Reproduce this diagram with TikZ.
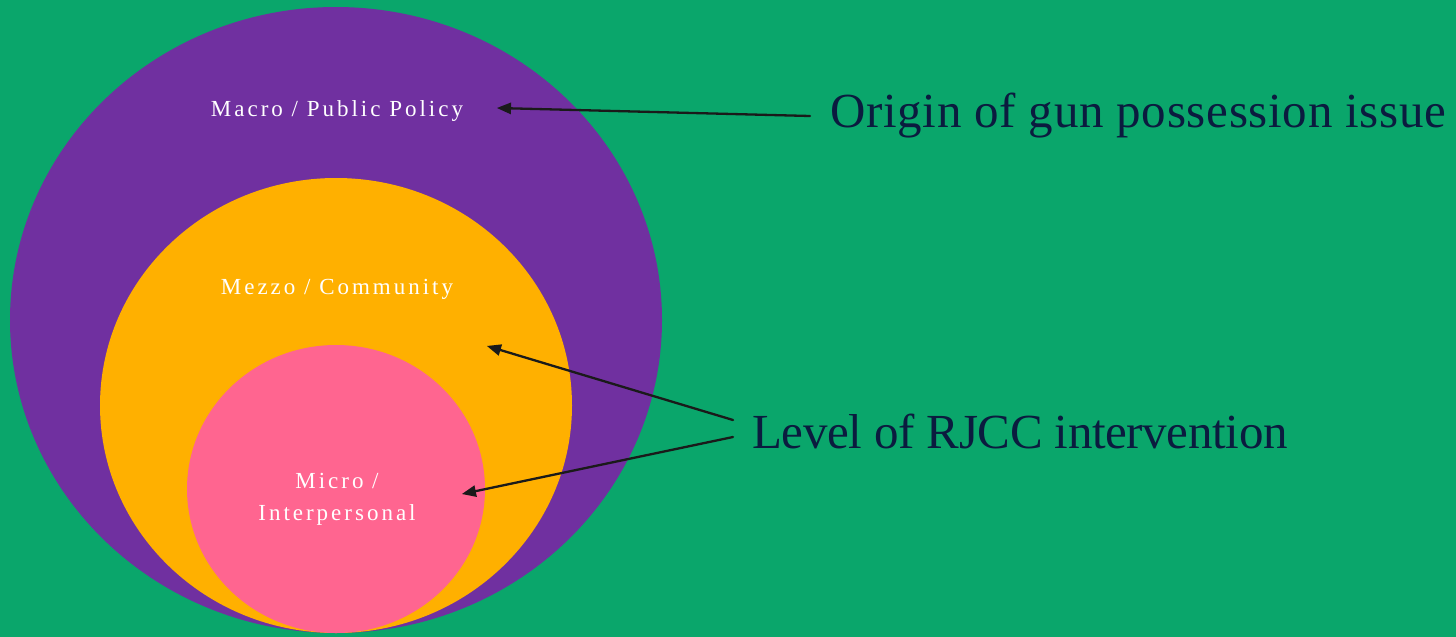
\documentclass[tikz,border=0pt]{standalone}
\usepackage{fontspec}
\setmainfont{Liberation Serif}
\usetikzlibrary{arrows}
\definecolor{bggreen}{HTML}{0AA66B}
\definecolor{macrocol}{HTML}{7030A0}
\definecolor{mezzocol}{HTML}{FFB000}
\definecolor{microcol}{HTML}{FF6590}
\definecolor{navytext}{HTML}{0B1B3F}
\definecolor{arrowcol}{HTML}{1A1A1A}
\tikzset{
  levellabel/.style={text=white,font=\fontsize{23}{32}\selectfont\addfontfeature{LetterSpace=13},inner sep=0pt,anchor=base,align=center},
  notelabel/.style={text=navytext,font=\fontsize{49}{58}\selectfont\addfontfeature{LetterSpace=#1},inner sep=0pt,anchor=base west},
  pointer/.style={->,draw=arrowcol,line width=2.3pt}
}
\begin{document}
\begin{tikzpicture}[line cap=round,line join=round,>=triangle 45,x=1pt,y={(0,-1pt)}]
		\fill [bggreen] (0,0) rectangle (1456,637);
		\useasboundingbox (0,0) rectangle (1456,637);
		% nested levels
		\fill [macrocol] (336,320) ellipse (326 and 313);
		\fill [mezzocol] (336,405.5) ellipse (236 and 227.5);
		\fill [microcol] (336,489) ellipse (149 and 144);
		\node[levellabel] (macro) at (337,116.5) {Macro / Public Policy};
		\node[levellabel] (mezzo) at (337,294) {Mezzo / Community};
		\node[levellabel] (micro) at (337,520) {Micro /\\Interpersonal};
		% notes
		\node[notelabel=1.4] (origin) at (830,127) {Origin of gun possession issue};
		\node[notelabel=-0.7] (level) at (752,448) {Level of RJCC intervention};
		\coordinate (macrotip) at (497,108);
		\coordinate (mezzotip) at (487,346);
		\coordinate (microtip) at (462,494);
		\coordinate (originstart) at (810,116);
		\coordinate (levelstartA) at (733,420);
		\coordinate (levelstartB) at (733,437);
		\draw [pointer] (originstart) -- (macrotip);
		\draw [pointer] (levelstartA) -- (mezzotip);
		\draw [pointer] (levelstartB) -- (microtip);
	\end{tikzpicture}
\end{document}
